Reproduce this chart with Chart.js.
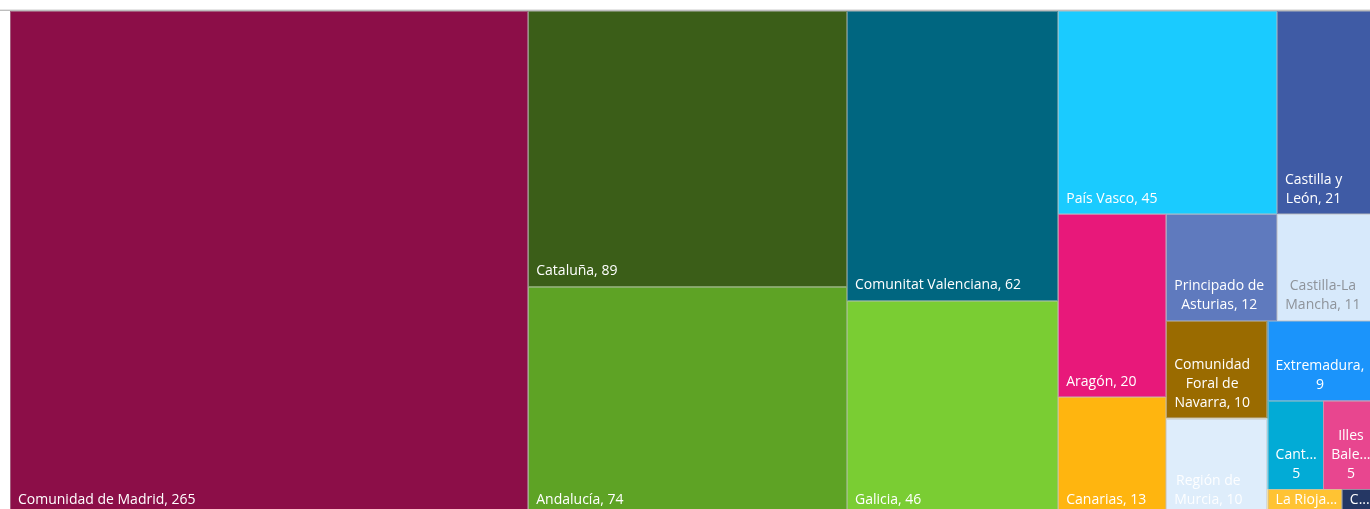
<!DOCTYPE html>
<html>
<head>
<meta charset="utf-8">
<script src="https://cdn.jsdelivr.net/npm/chart.js@4.4.1/dist/chart.umd.min.js"></script>
<style>
  html, body { margin: 0; padding: 0; background: #fff; overflow: hidden; }
  #wrap { position: absolute; left: 0; top: 0; }
</style>
</head>
<body>
<div id="wrap"><canvas id="chart" width="1400" height="530"></canvas></div>
<script>
const regiones = [
  "Comunidad de Madrid", "Cataluña", "Andalucía", "Comunitat Valenciana", "Galicia",
  "País Vasco", "Castilla y León", "Aragón", "Canarias", "Principado de Asturias",
  "Castilla-La Mancha", "Comunidad Foral de Navarra", "Región de Murcia", "Extremadura",
  "Cantabria", "Illes Balears", "La Rioja", "Ceuta"
];
const valores = [265, 89, 74, 62, 46, 45, 21, 20, 13, 12, 11, 10, 10, 9, 5, 5, 2, 1];
const colores = [
  "#8c0e48", "#3b5e18", "#5ea325", "#006680", "#7acd33",
  "#1acbff", "#3f5ba5", "#e8187a", "#ffb50f", "#5f7abe",
  "#d7e9fb", "#9a6b00", "#deedfb", "#1b94fb",
  "#02abd6", "#e8468f", "#ffc333", "#253764"
];
const coloresTexto = [
  "#fff", "#fff", "#fff", "#fff", "#fff",
  "#fff", "#fff", "#fff", "#fff", "#fff",
  "#8e939a", "#fff", "rgba(255,255,255,0.92)", "#fff",
  "#fff", "#fff", "#fff", "#fff"
];

const FONT = '14px "Open Sans"';
const LINE_H = 19;
const PAD = 8;

// squarified treemap, areas already scaled to the rectangle
function worst(row, s){
  const sum = row.reduce((a, b) => a + b, 0);
  const mx = Math.max(...row), mn = Math.min(...row);
  return Math.max(s * s * mx / (sum * sum), (sum * sum) / (s * s * mn));
}

function squarify(areas, x, y, w, h){
  const rects = [];
  let i = 0;
  while (i < areas.length){
    const s = Math.min(w, h);
    let row = [areas[i]];
    let best = worst(row, s);
    let j = i + 1;
    while (j < areas.length){
      const next = row.concat(areas[j]);
      const wr = worst(next, s);
      if (wr <= best){ row = next; best = wr; j++; } else break;
    }
    const sum = row.reduce((a, b) => a + b, 0);
    if (w >= h){
      const cw = sum / h;
      let yy = y;
      row.forEach(a => { const rh = a / cw; rects.push({x: x, y: yy, w: cw, h: rh}); yy += rh; });
      x += cw; w -= cw;
    } else {
      const rh = sum / w;
      let xx = x;
      row.forEach(a => { const rw = a / rh; rects.push({x: xx, y: y, w: rw, h: rh}); xx += rw; });
      y += rh; h -= rh;
    }
    i = j;
  }
  return rects;
}

function truncate(ctx, text, avail){
  if (ctx.measureText(text).width <= avail) return text;
  let t = text;
  while (t.length > 1 && ctx.measureText(t + '...').width > avail) t = t.slice(0, -1);
  return t + '...';
}

function wrapLabel(ctx, text, avail, maxLines){
  const words = text.split(' ');
  const lines = [];
  let cur = '';
  words.forEach(wd => {
    const test = cur ? cur + ' ' + wd : wd;
    if (!cur || ctx.measureText(test).width <= avail) cur = test;
    else { lines.push(cur); cur = wd; }
  });
  if (cur) lines.push(cur);
  if (lines.length > maxLines){
    const keep = lines.slice(0, maxLines - 1);
    keep.push(lines.slice(maxLines - 1).join(' '));
    return keep.map(l => truncate(ctx, l, avail));
  }
  return lines.map(l => truncate(ctx, l, avail));
}

const treemapPlugin = {
  id: 'treemap',
  afterDatasetsDraw(chart){
    const ctx = chart.ctx;
    const area = chart.chartArea;
    const xs = chart.scales.x, ys = chart.scales.y;
    const W = area.right - area.left, H = area.bottom - area.top;
    const total = valores.reduce((a, b) => a + b, 0);
    const areas = valores.map(v => v * W * H / total);
    // layout in unit space 0..1 so the scales place every cell
    const cells = squarify(areas, 0, 0, W, H).map(r => ({
      x0: r.x / W, x1: (r.x + r.w) / W, y0: r.y / H, y1: (r.y + r.h) / H
    }));

    ctx.save();
    // faint shadow above plot
    ctx.fillStyle = '#e6e6e6';
    ctx.fillRect(0, area.top - 2, chart.width, 1);
    ctx.fillStyle = '#bdbdbd';
    ctx.fillRect(0, area.top - 1, chart.width, 1);

    cells.forEach((c, i) => {
      const px0 = xs.getPixelForValue(c.x0), px1 = xs.getPixelForValue(c.x1);
      const py0 = ys.getPixelForValue(c.y0), py1 = ys.getPixelForValue(c.y1);
      ctx.fillStyle = colores[i];
      ctx.fillRect(px0, py0, px1 - px0, py1 - py0);
      ctx.strokeStyle = 'rgba(190,190,190,0.45)';
      ctx.lineWidth = 1;
      ctx.strokeRect(Math.round(px0) + 0.5, Math.round(py0) + 0.5, Math.round(px1 - px0) - 1, Math.round(py1 - py0) - 1);
    });

    ctx.font = FONT;
    ctx.textBaseline = 'middle';
    ctx.textAlign = 'center';
    cells.forEach((c, i) => {
      const px0 = xs.getPixelForValue(c.x0), px1 = xs.getPixelForValue(c.x1);
      const py0 = ys.getPixelForValue(c.y0), py1 = ys.getPixelForValue(c.y1);
      const avail = px1 - px0 - 2 * PAD + 4;
      const maxLines = Math.max(1, Math.floor((py1 - py0 - 6) / LINE_H));
      const lines = wrapLabel(ctx, regiones[i] + ', ' + valores[i], avail, maxLines);
      const blockW = Math.max(...lines.map(l => ctx.measureText(l).width));
      const cx = px0 + PAD + blockW / 2;
      ctx.fillStyle = coloresTexto[i];
      lines.forEach((l, k) => {
        const yy = py1 - 15.5 - (lines.length - 1 - k) * LINE_H;
        ctx.fillText(l, cx, yy);
      });
    });
    ctx.restore();
  }
};

new Chart(document.getElementById('chart'), {
  type: 'scatter',
  data: { datasets: [{ data: [], pointRadius: 0 }] },
  options: {
    responsive: false,
    animation: false,
    layout: { padding: { left: 10, top: 11, right: 21, bottom: 14 } },
    plugins: { legend: { display: false }, tooltip: { enabled: false } },
    scales: {
      x: { type: 'linear', min: 0, max: 1, display: false },
      y: { type: 'linear', min: 0, max: 1, reverse: true, display: false }
    }
  },
  plugins: [treemapPlugin]
});
</script>
</body>
</html>
